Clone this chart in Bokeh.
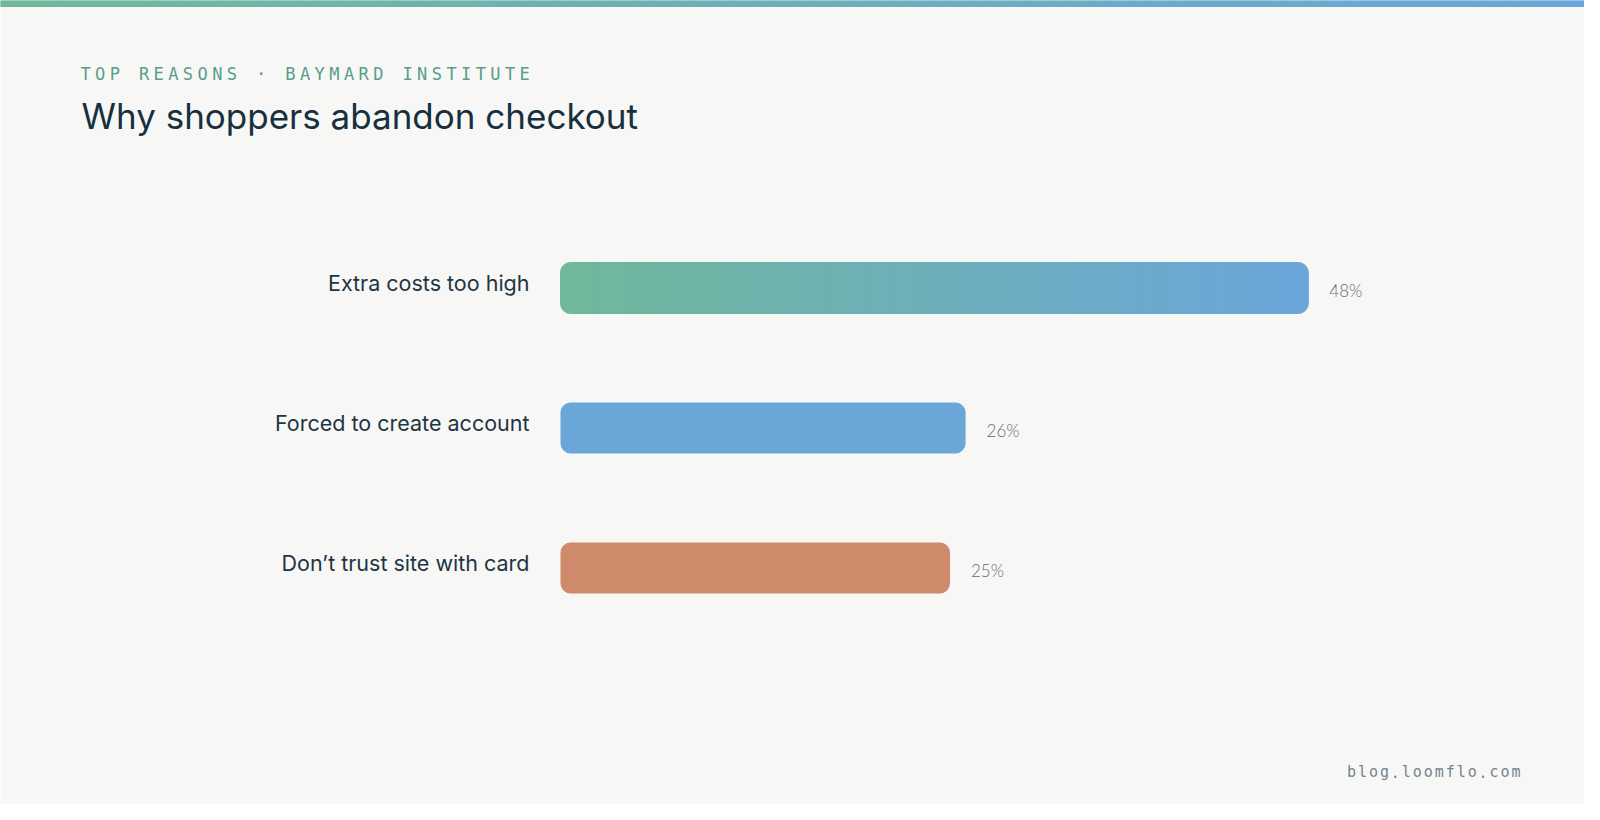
import numpy as np
from bokeh.plotting import figure
from bokeh.models import Range1d
from bokeh.core.properties import value
from bokeh.embed import file_html
from bokeh.resources import INLINE

# ---------------- data ----------------
categories = ["Extra costs too high", "Forced to create account", "Don\u2019t trust site with card"]
shares = [48, 26, 25]
value_labels = ["48%", "26%", "25%"]
bar_colors = ["gradient", "#6aa7d8", "#ce8a6b"]
gradient_start = "#6fb89b"
gradient_end = "#6aa6d9"
subtitle = "TOP REASONS \u00b7 BAYMARD INSTITUTE"
title_text = "Why shoppers abandon checkout"
footer = "blog.loomflo.com"

# ---------------- layout (screenshot pixel coordinates) ----------------
W, H = 1584, 804
OFF = 0                # where the figure starts in the screenshot
ZERO_PX = 560          # x pixel of 0 %
PPU = 15.58            # pixels per percent
ROW0 = 287.5           # y pixel of first row centre
ROW_GAP = 140          # pixels between rows
BAR_PX = 51
RADIUS = 10


def xd(px):
    return (px - ZERO_PX) / PPU


def yd(py):
    return (py - ROW0) / ROW_GAP


def hex2rgb(h):
    h = h.lstrip("#")
    return np.array([int(h[i:i + 2], 16) for i in (0, 2, 4)], dtype=float)


def ramp(c0, c1, n):
    a, b = hex2rgb(c0), hex2rgb(c1)
    out = []
    for t in np.linspace(0, 1, n):
        c = a + (b - a) * t
        out.append("#%02x%02x%02x" % tuple(int(round(v)) for v in c))
    return out


p = figure(width=W, height=H,
           x_range=Range1d(xd(OFF), xd(OFF + W)),
           y_range=Range1d(yd(OFF + H), yd(OFF)),
           output_backend="svg", toolbar_location=None,
           x_axis_location=None, y_axis_location=None,
           min_border=0)
p.background_fill_color = "#f7f7f5"
p.border_fill_color = "#f7f7f5"
p.outline_line_color = None
p.xgrid.visible = False
p.ygrid.visible = False

# ---------------- top gradient strip ----------------
NS = 80
edges = np.linspace(xd(OFF), xd(OFF + W), NS + 1)
strip_cols = ramp(gradient_start, gradient_end, NS)
p.quad(left=edges[:-1], right=edges[1:], top=yd(OFF), bottom=yd(OFF + 6),
       fill_color=strip_cols, line_color=strip_cols, line_width=1)

rows = list(range(len(categories)))
bar_h = BAR_PX / ROW_GAP

# ---------------- bars ----------------
for i, (v, col) in enumerate(zip(shares, bar_colors)):
    if col == "gradient":
        N = 48
        e = np.linspace(0, v, N + 1)
        cols = ramp(gradient_start, gradient_end, N)
        p.hbar(y=[rows[i]], left=[e[0]], right=[e[1]], height=bar_h,
               fill_color=cols[0], line_color=cols[0], line_width=1,
               border_radius=(RADIUS, 0, 0, RADIUS))
        p.hbar(y=[rows[i]] * (N - 2), left=e[1:-2], right=e[2:-1], height=bar_h,
               fill_color=cols[1:-1], line_color=cols[1:-1], line_width=1)
        p.hbar(y=[rows[i]], left=[e[-2]], right=[e[-1]], height=bar_h,
               fill_color=cols[-1], line_color=cols[-1], line_width=1,
               border_radius=(0, RADIUS, RADIUS, 0))
    else:
        p.hbar(y=[rows[i]], left=[0], right=[v], height=bar_h,
               fill_color=col, line_color=None, border_radius=RADIUS)

# ---------------- category labels ----------------
p.text(x=[xd(529)] * len(categories), y=[r - 4.8 / ROW_GAP for r in rows], text=categories,
       text_align="right", text_baseline="alphabetic",
       text_font=value("Inter"), text_font_size="21.5px", text_color="#1e3544")

# ---------------- value labels ----------------
p.text(x=[v + 21 / PPU for v in shares], y=[r + 2.4 / ROW_GAP for r in rows], text=value_labels,
       text_align="left", text_baseline="alphabetic",
       text_font=value("Lato Light"), text_font_size="17px", text_color="#5f6f7a")

# ---------------- title & subtitle ----------------
p.text(x=[xd(81)], y=[yd(115)], text=[title_text], text_align="left", text_baseline="alphabetic",
       text_font=value("Inter"), text_font_size="35px", text_color="#17303f")

sub_chars = [(i, c) for i, c in enumerate(subtitle) if c != " "]
p.text(x=[xd(85 + i * 14.64) for i, _ in sub_chars], y=[yd(73)] * len(sub_chars),
       text=[c for _, c in sub_chars], text_align="center", text_baseline="alphabetic",
       text_font=value("DejaVu Sans Mono"), text_font_size="17px", text_color="#589e89")

foot_chars = [(i, c) for i, c in enumerate(footer) if c != " "]
p.text(x=[xd(1351 + i * 10.97) for i, _ in foot_chars], y=[yd(771)] * len(foot_chars),
       text=[c for _, c in foot_chars], text_align="center", text_baseline="alphabetic",
       text_font=value("DejaVu Sans Mono"), text_font_size="15px", text_color="#74848f")

open("out.html", "w").write(file_html(p, INLINE))
